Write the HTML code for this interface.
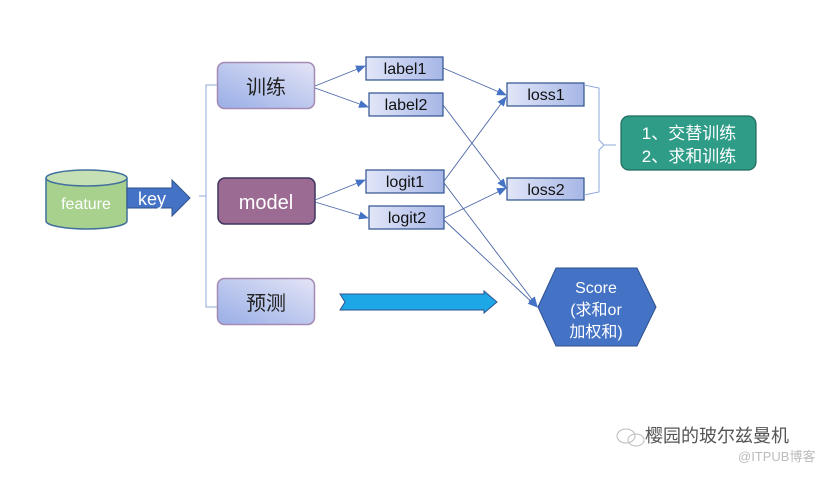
<!DOCTYPE html>
<html><head><meta charset="utf-8"><style>
html,body{margin:0;padding:0;background:#fff;}
svg text{font-family:"Liberation Sans","Noto Sans CJK SC",sans-serif;}
</style></head><body>
<svg width="830" height="472" viewBox="0 0 830 472" xmlns="http://www.w3.org/2000/svg">
<defs>
<linearGradient id="pg" x1="0" y1="1" x2="1" y2="0">
<stop offset="0" stop-color="#98aee6"/><stop offset="1" stop-color="#e4e4f6"/></linearGradient>
<linearGradient id="bg" x1="0" y1="0" x2="1" y2="0">
<stop offset="0" stop-color="#e2e6f8"/><stop offset="1" stop-color="#a6b6e6"/></linearGradient>
<marker id="ah" markerWidth="10" markerHeight="8" refX="9" refY="4" orient="auto" markerUnits="userSpaceOnUse">
<path d="M0,0 L10,4 L0,8 Z" fill="#4472c4"/></marker>
</defs>
<path d="M46,178 L46,221 A40.5,8 0 0 0 127,221 L127,178" fill="#a9d18e" stroke="#41719c" stroke-width="1.5"/>
<ellipse cx="86.5" cy="178" rx="40.5" ry="8" fill="#c5e0b4" stroke="#41719c" stroke-width="1.5"/>
<text x="86" y="209" font-size="16" fill="#fff" text-anchor="middle">feature</text>
<path d="M127,188 L172,188 L172,180 L190,198 L172,216 L172,208 L127,208 Z" fill="#4472c4" stroke="#2f528f" stroke-width="1"/>
<text x="152" y="205" font-size="18" fill="#fff" text-anchor="middle">key</text>
<path d="M217,85 L206,85 L206,307 L217,307 M206,196 L199,196" fill="none" stroke="#8faadc" stroke-width="1"/>
<rect x="217.5" y="62.5" width="97" height="46" rx="7" fill="url(#pg)" stroke="#a58bb3" stroke-width="1.5"/>
<text x="266" y="94" font-size="20" fill="#222" text-anchor="middle">训练</text>
<rect x="218" y="178" width="97" height="46" rx="7" fill="#9b6b93" stroke="#3d3560" stroke-width="1.5"/>
<text x="266" y="209" font-size="20" fill="#fff" text-anchor="middle">model</text>
<rect x="217.5" y="278.5" width="97" height="46" rx="7" fill="url(#pg)" stroke="#a58bb3" stroke-width="1.5"/>
<text x="266" y="310" font-size="20" fill="#222" text-anchor="middle">预测</text>
<g stroke="#2f528f" stroke-width="1.2" fill="url(#bg)">
<rect x="366" y="57" width="77" height="23"/>
<rect x="369" y="93" width="74" height="23"/>
<rect x="366" y="170" width="78" height="23"/>
<rect x="369" y="206" width="75" height="23"/>
<rect x="507" y="83" width="77" height="23"/>
<rect x="507" y="178" width="77" height="22"/>
</g>
<g font-size="16" fill="#111" text-anchor="middle">
<text x="405" y="74">label1</text>
<text x="406" y="110">label2</text>
<text x="405" y="187">logit1</text>
<text x="407" y="223">logit2</text>
<text x="546" y="100">loss1</text>
<text x="546" y="195">loss2</text>
</g>
<g stroke="#4a66a8" stroke-width="0.9" fill="none" marker-end="url(#ah)">
<line x1="315" y1="86" x2="365" y2="66"/>
<line x1="315" y1="88" x2="368" y2="107"/>
<line x1="315" y1="200" x2="365" y2="180"/>
<line x1="315" y1="202" x2="368" y2="218"/>
<line x1="443" y1="68" x2="506" y2="95"/>
<line x1="443" y1="105" x2="506" y2="188"/>
<line x1="444" y1="181" x2="506" y2="97"/>
<line x1="444" y1="218" x2="506" y2="188"/>
<line x1="444" y1="183" x2="537" y2="306"/>
<line x1="444" y1="220" x2="537" y2="307"/>
</g>
<path d="M584,85 L599,88 L599,140 L604,145 L616,145 M604,145 L599,150 L599,192 L584,195" fill="none" stroke="#8faadc" stroke-width="1"/>
<rect x="621" y="116" width="135" height="54" rx="8" fill="#2e9c87" stroke="#1f6b5e" stroke-width="1.2"/>
<text x="689" y="139" font-size="17" fill="#fff" text-anchor="middle">1、交替训练</text>
<text x="689" y="162" font-size="17" fill="#fff" text-anchor="middle">2、求和训练</text>
<polygon points="538,307 556,268 637,268 656,307 637,346 556,346" fill="#4472c4" stroke="#2f528f" stroke-width="1"/>
<text x="596" y="293" font-size="16" fill="#fff" text-anchor="middle">Score</text>
<text x="596" y="315" font-size="16" fill="#fff" text-anchor="middle">(求和or</text>
<text x="596" y="337" font-size="16" fill="#fff" text-anchor="middle">加权和)</text>
<path d="M340,294 L484,294 L484,291 L497,302 L484,313 L484,310 L340,310 L345,302 Z" fill="#1ea7e6" stroke="#2f528f" stroke-width="1"/>
<g stroke="#bbb" fill="none" stroke-width="1">
<ellipse cx="626" cy="436" rx="9" ry="7"/>
<ellipse cx="636" cy="440" rx="8" ry="6"/>
</g>
<text x="645" y="442" font-size="18" fill="#555">樱园的玻尔兹曼机</text>
<text x="738" y="461" font-size="13" fill="#bbb">@ITPUB博客</text>
</svg>
</body></html>
